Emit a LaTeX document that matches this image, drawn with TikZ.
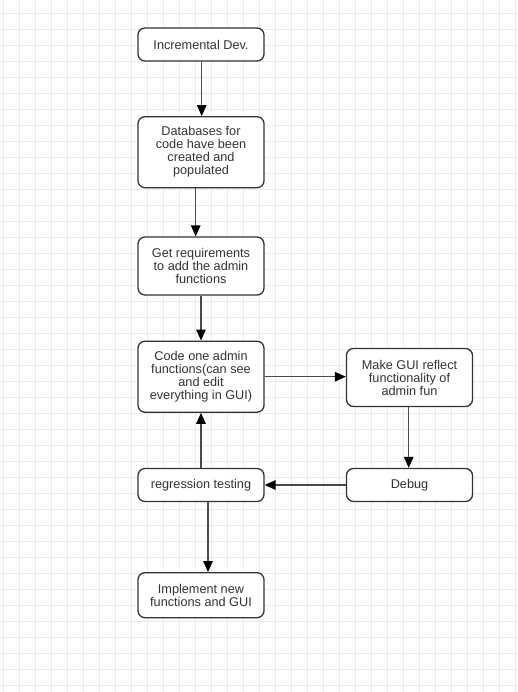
\documentclass[tikz,border=0pt]{standalone}
\usepackage{fontspec}
\setmainfont{Liberation Sans}
\usetikzlibrary{arrows.meta}
\definecolor{gridline}{HTML}{EBEBEB}
\definecolor{ink}{HTML}{333333}
\definecolor{wire}{HTML}{4A4A4A}
\begin{document}
\begin{tikzpicture}[x=1pt,y=-1pt,
  box/.style={draw=ink, line width=1.3pt, rounded corners=7pt, fill=white,
    text=ink, align=center, inner sep=0pt,
    minimum width=126pt, font=\fontsize{12.7}{13}\selectfont},
  flow/.style={draw=wire, line width=1.4pt,
    -{Triangle[length=11pt,width=9.5pt,color=black]}}]
  % canvas and background grid
  \useasboundingbox (0,0) rectangle (518,692);
  \fill[white] (0,0) rectangle (518,692);
  \foreach \i in {0,...,32} \draw[gridline, line width=0.9pt] (3.3+16*\i,0) -- (3.3+16*\i,692);
  \foreach \j in {0,...,42} \draw[gridline, line width=0.9pt] (0,13.7+16*\j) -- (518,13.7+16*\j);

  % process steps
  \node[box, minimum height=33pt] (inc)  at (201,44.5)  {Incremental Dev.};
  \node[box, minimum height=71pt] (db)   at (201,152.2) {Databases for\\code have been\\created and\\populated};
  \node[box, minimum height=58pt] (req)  at (201,266)   {Get requirements\\to add the admin\\functions};
  \node[box, minimum height=71pt] (code) at (201,376.7) {Code one admin\\functions(can see\\and edit\\everything in GUI)};
  \node[box, minimum height=58pt] (gui)  at (409.5,377.5) {Make GUI reflect\\functionality of\\admin fun};
  \node[box, minimum height=33pt] (dbg)  at (409.5,485) {Debug};
  \node[box, minimum height=33pt] (reg)  at (201,485)   {regression testing};
  \node[box, minimum height=45pt] (impl) at (201,595.2) {Implement new\\functions and GUI};

  % connectors
  \draw[flow] ([xshift=0.7pt]inc.south) -- ([xshift=0.7pt]db.north);
  \draw[flow] ([xshift=-5.3pt]db.south) -- ([xshift=-5.3pt]req.north);
  \draw[flow] (req.south) -- (code.north);
  \draw[flow] (code.east) -- (code.east -| gui.west);
  \draw[flow] ([xshift=-0.8pt]gui.south) -- ([xshift=-0.8pt]dbg.north);
  \draw[flow] (dbg.west) -- (reg.east);
  \draw[flow] (reg.north) -- (code.south);
  \draw[flow] ([xshift=7pt]reg.south) -- ([xshift=7pt]impl.north);
\end{tikzpicture}
\end{document}
